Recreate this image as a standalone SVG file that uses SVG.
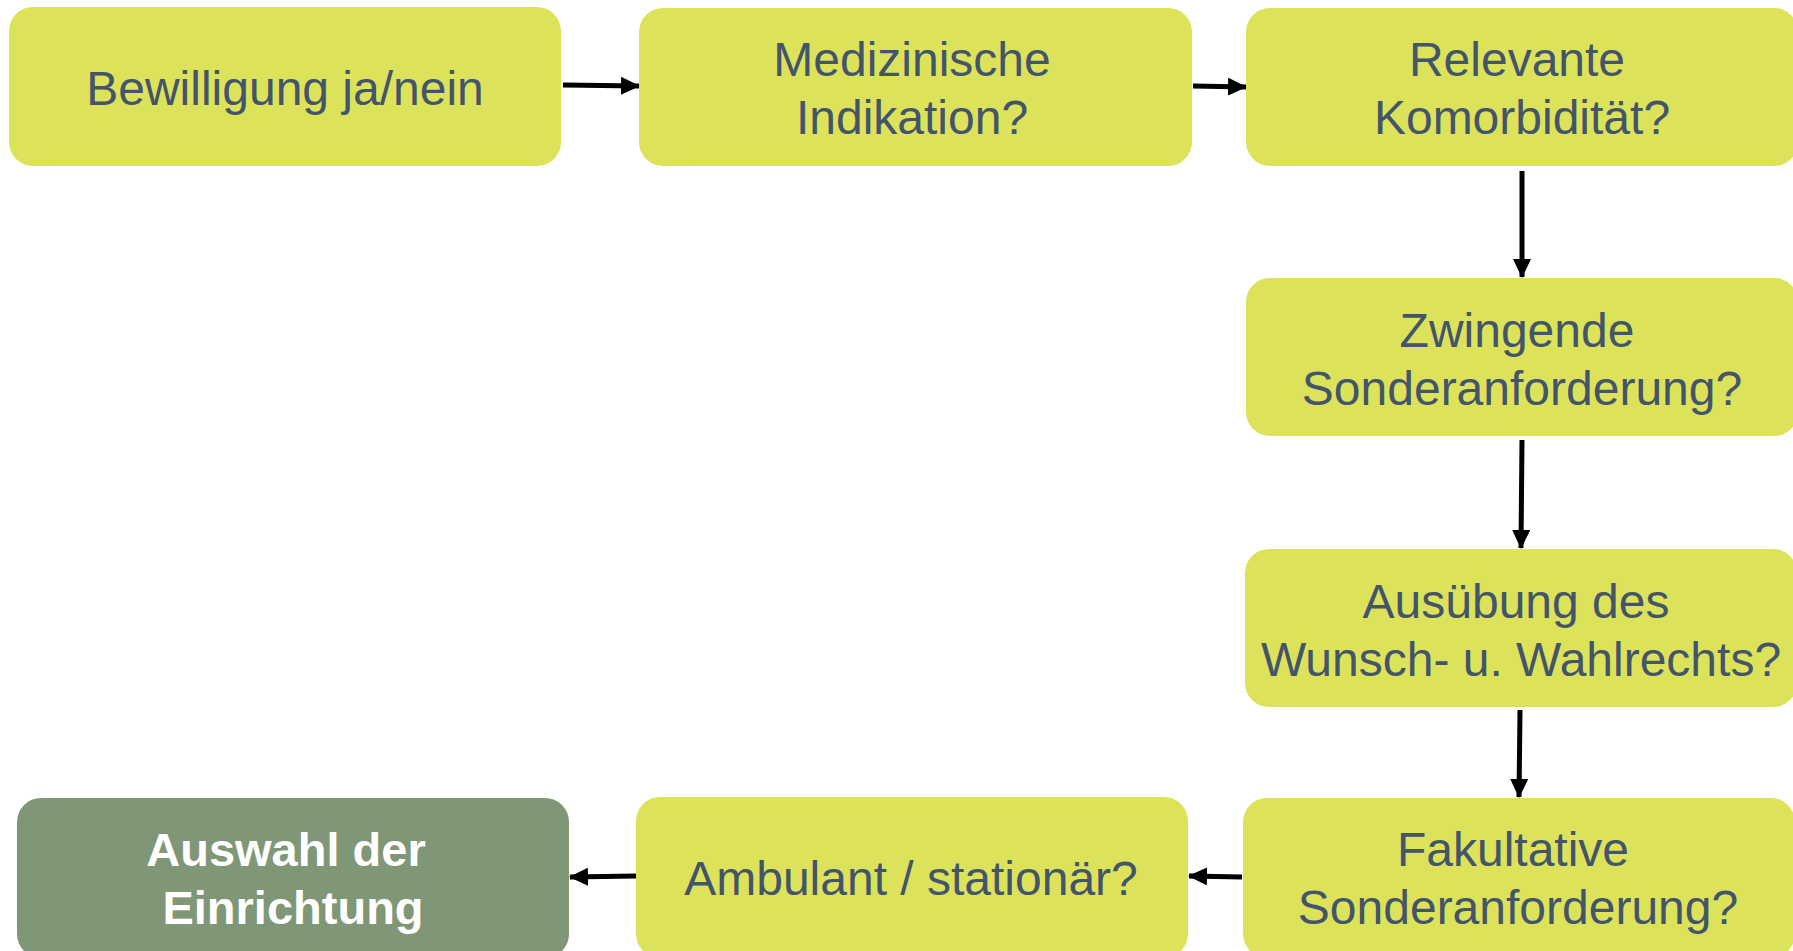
<svg xmlns="http://www.w3.org/2000/svg" width="1793" height="951" viewBox="0 0 1793 951">
<style>
.box{fill:#dce35b;}
.final{fill:#7f9776;}
.t{font-family:"Liberation Sans",Arial,sans-serif;font-size:48px;fill:#44546a;text-anchor:middle;}
.tb{font-family:"Liberation Sans",Arial,sans-serif;font-size:47px;font-weight:bold;fill:#ffffff;text-anchor:middle;}
.c{stroke:#000;stroke-width:5;fill:none;marker-end:url(#ah);}
</style>
<defs>
<marker id="ah" markerUnits="userSpaceOnUse" markerWidth="19" markerHeight="18" refX="18" refY="9" orient="auto">
<path d="M0,0 L19,9 L0,18 Z" fill="#000"/>
</marker>
</defs>
<rect width="1793" height="951" fill="#ffffff"/>
<g id="connectors">
<line class="c" x1="563" y1="85" x2="639" y2="86"/>
<line class="c" x1="1193" y1="86" x2="1246" y2="87"/>
<line class="c" x1="1522" y1="171" x2="1522" y2="277"/>
<line class="c" x1="1522" y1="440" x2="1521" y2="548"/>
<line class="c" x1="1520" y1="710" x2="1519" y2="797"/>
<line class="c" x1="1242" y1="877" x2="1189" y2="876"/>
<line class="c" x1="636" y1="876" x2="570" y2="877"/>
</g>
<g id="n1">
<rect class="box" x="9" y="7" width="552" height="159" rx="24"/>
<text class="t" x="285" y="105">Bewilligung ja/nein</text>
</g>
<g id="n2">
<rect class="box" x="639" y="8" width="553" height="158" rx="24"/>
<text class="t" x="912" y="76">Medizinische</text>
<text class="t" x="912" y="134">Indikation?</text>
</g>
<g id="n3">
<rect class="box" x="1246" y="8" width="552" height="158" rx="24"/>
<text class="t" x="1517" y="76">Relevante</text>
<text class="t" x="1522" y="134">Komorbidität?</text>
</g>
<g id="n4">
<rect class="box" x="1246" y="278" width="552" height="158" rx="24"/>
<text class="t" x="1517" y="347">Zwingende</text>
<text class="t" x="1522" y="405">Sonderanforderung?</text>
</g>
<g id="n5">
<rect class="box" x="1245" y="549" width="552" height="158" rx="24"/>
<text class="t" x="1516" y="618">Ausübung des</text>
<text class="t" x="1521" y="676">Wunsch- u. Wahlrechts?</text>
</g>
<g id="n6">
<rect class="box" x="1243" y="798" width="552" height="160" rx="24"/>
<text class="t" x="1513" y="866">Fakultative</text>
<text class="t" x="1518" y="924">Sonderanforderung?</text>
</g>
<g id="n7">
<rect class="box" x="636" y="797" width="552" height="161" rx="24"/>
<text class="t" x="911" y="895">Ambulant / stationär?</text>
</g>
<g id="n8">
<rect class="final" x="17" y="798" width="552" height="160" rx="24"/>
<text class="tb" x="286" y="866">Auswahl der</text>
<text class="tb" x="293" y="924">Einrichtung</text>
</g>
</svg>
